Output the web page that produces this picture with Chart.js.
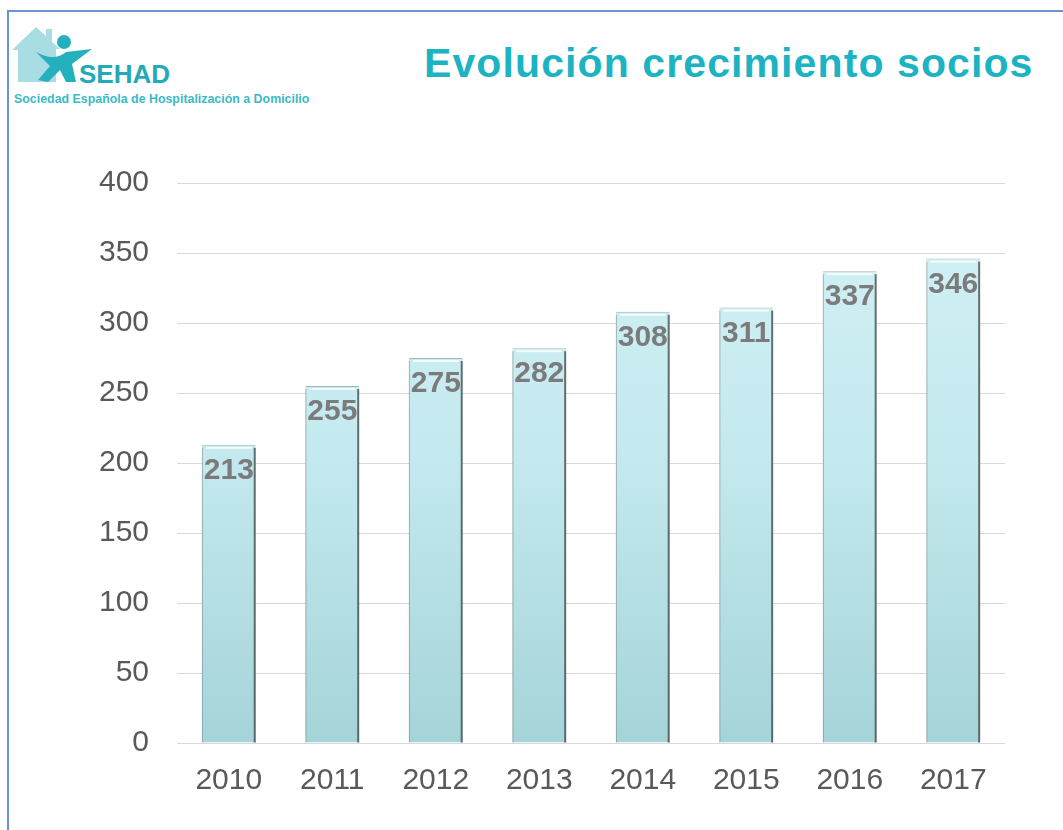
<!DOCTYPE html>
<html>
<head>
<meta charset="UTF-8">
<title>Evolución crecimiento socios</title>
<script src="https://cdn.jsdelivr.net/npm/chart.js@4.4.0/dist/chart.umd.min.js"></script>
<style>
  html, body { margin: 0; padding: 0; background: #fff; }
  body { width: 1063px; height: 830px; position: relative; overflow: hidden; font-family: "Liberation Sans", Arial, sans-serif; }
  #frame { position: absolute; left: 7px; top: 10px; width: 1070px; height: 840px; border-left: 2px solid #6a93d4; border-top: 2px solid #6a93d4; }
  #logo { position: absolute; left: 10px; top: 22px; }
  #title { position: absolute; left: 424px; top: 43px; font-size: 41px; line-height: 40px; letter-spacing: 1.1px; font-weight: bold; color: #1cb3c2; white-space: nowrap; }
  #chart { position: absolute; left: 0; top: 0; }
</style>
</head>
<body>
<div id="frame"></div>
<svg id="logo" width="320" height="90" viewBox="0 0 320 90" xmlns="http://www.w3.org/2000/svg">
  <polygon points="2,28 26,5 36,14 36,7 42,7 42,20 50,27 46,27 46,60 8,60 8,28" fill="#a9dde4"/>
  <circle cx="54" cy="20" r="7" fill="#25b0bd"/>
  <path d="M26,30 Q44,40 56,30 L82,27 L62,42 L66,60 L56,60 L50,48 L38,60 L28,58 L40,44 Z" fill="#25b0bd"/>
  <text x="69" y="61" font-family="Liberation Sans, Arial, sans-serif" font-weight="bold" font-size="26" fill="#22aab8">SEHAD</text>
  <text x="4" y="81" font-family="Liberation Sans, Arial, sans-serif" font-weight="bold" font-size="12.4" fill="#3bbac6">Sociedad Española de Hospitalización a Domicilio</text>
</svg>
<div id="title">Evolución crecimiento socios</div>
<canvas id="chart" width="1063" height="830"></canvas>

<script>
// data
var years = ['2010', '2011', '2012', '2013', '2014', '2015', '2016', '2017'];
var socios = [213, 255, 275, 282, 308, 311, 337, 346];
var yTicks = [0, 50, 100, 150, 200, 250, 300, 350, 400];

var fontFam = '"Liberation Sans", Arial, sans-serif';

// labels drawn inside the top of each bar
var valueLabels = {
  id: 'valueLabels',
  afterDatasetsDraw: function(chart) {
    var ctx = chart.ctx;
    var meta = chart.getDatasetMeta(0);
    ctx.save();
    ctx.font = 'bold 30px ' + fontFam;
    ctx.fillStyle = '#7b7b7b';
    ctx.textAlign = 'center';
    ctx.textBaseline = 'middle';
    meta.data.forEach(function(bar, i) {
      ctx.fillText(socios[i], bar.x, bar.y + 26);
    });
    ctx.restore();
  }
};

// dark shadow on right edge of each bar
var barEdges = {
  id: 'barEdges',
  afterDatasetsDraw: function(chart) {
    var ctx = chart.ctx;
    var meta = chart.getDatasetMeta(0);
    ctx.save();
    meta.data.forEach(function(bar) {
      var l = bar.x - bar.width / 2, r = bar.x + bar.width / 2;
      ctx.fillStyle = 'rgba(60,70,70,0.75)';
      ctx.fillRect(r - 2, bar.y + 3, 2, bar.base - bar.y - 3);
      ctx.fillStyle = 'rgba(120,130,130,0.55)';
      ctx.fillRect(l, bar.y + 3, 1, bar.base - bar.y - 3);
      ctx.fillStyle = 'rgba(255,255,255,0.8)';
      ctx.fillRect(l + 4, bar.y + 2, bar.width - 8, 2);
    });
    ctx.restore();
  }
};

var ctx = document.getElementById('chart').getContext('2d');
var myChart = new Chart(ctx, {
  type: 'bar',
  data: {
    labels: years,
    datasets: [{
      data: socios,
      backgroundColor: function(c) {
        var area = c.chart.chartArea;
        if (!area) return '#c4ebef';
        var g = c.chart.ctx.createLinearGradient(0, area.top, 0, area.bottom);
        g.addColorStop(0, '#d3f2f6');
        g.addColorStop(0.5, '#c3e9ee');
        g.addColorStop(1, '#a5d4d8');
        return g;
      },
      borderColor: '#9fb8ba',
      borderWidth: { top: 1, left: 0, right: 0, bottom: 0 },
      barPercentage: 0.52,
      categoryPercentage: 1.0
    }]
  },
  options: {
    responsive: false,
    animation: false,
    layout: { padding: { left: 71, right: 58, top: 183, bottom: 11 } },
    plugins: {
      legend: { display: false },
      tooltip: { enabled: false }
    },
    scales: {
      x: {
        grid: { display: false, drawTicks: false },
        border: { display: false },
        ticks: { color: '#595959', padding: 20, font: { family: fontFam, size: 30 } }
      },
      y: {
        min: 0,
        max: 400,
        afterBuildTicks: function(axis) {
          axis.ticks = yTicks.map(function(v) { return { value: v }; });
        },
        grid: { color: '#d9d9d9', lineWidth: 1, drawTicks: false },
        border: { display: false },
        ticks: { color: '#595959', padding: 28, font: { family: fontFam, size: 30 } }
      }
    }
  },
  plugins: [barEdges, valueLabels]
});
</script>
</body>
</html>
